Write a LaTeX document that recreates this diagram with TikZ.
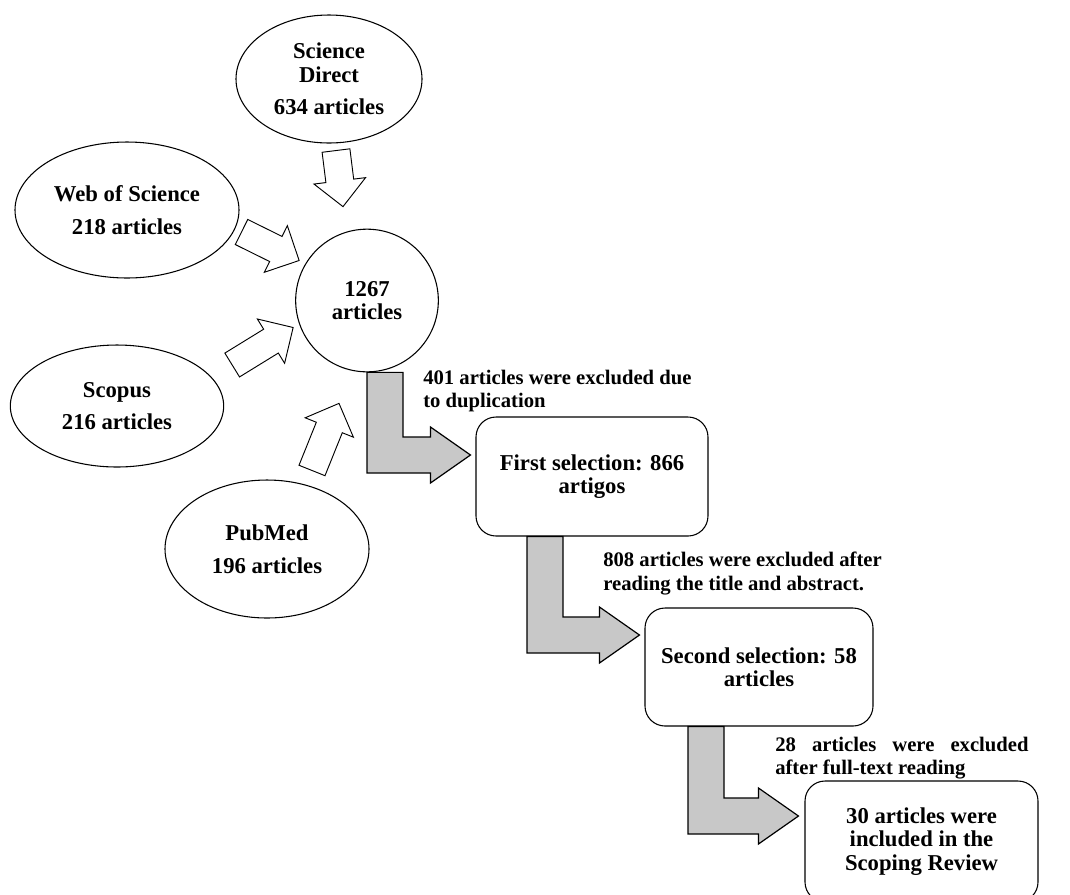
\documentclass[tikz,border=0pt]{standalone}
\usepackage{fontspec}
\setmainfont{Liberation Serif}
\usepackage{tikz}
\usetikzlibrary{calc,positioning,shapes.geometric}
\definecolor{stepGray}{RGB}{200,200,200}
\newcommand{\boxfont}{\fontsize{17}{17.5}\selectfont\bfseries}
\newcommand{\notefont}{\fontsize{15.5}{17.5}\selectfont\bfseries}

% hollow block arrow: #1 = tail, #2 = tip
\newcommand{\hollowarrow}[2]{%
  \path #1 coordinate (ha) #2 coordinate (hb) ($(hb)!19.5pt!(ha)$) coordinate (hm);
  \draw[hollowarr] ($(ha)!10.5pt!90:(hb)$) -- ($(hm)!10.5pt!90:(hb)$) -- ($(hm)!19.5pt!90:(hb)$)
    -- (hb) -- ($(hm)!19.5pt!-90:(hb)$) -- ($(hm)!10.5pt!-90:(hb)$) -- ($(ha)!10.5pt!-90:(hb)$) -- cycle;}

% grey elbow arrow: #1 = top left of shaft, #2 = tip
\newcommand{\elbowarrow}[2]{%
  \path #1 coordinate (ea) #2 coordinate (eb);
  \draw[elbowarr] (ea) -- ++(36,0) |- ($(eb)+(-40,-18)$) -- ++(0,-10) -- (eb)
    -- ++(-40,28) -- ++(0,-10) -| (ea) -- cycle;}

\begin{document}
\begin{tikzpicture}[x=0.75pt,y=-0.75pt,
    srcnode/.style={ellipse, draw, line width=0.8pt, inner sep=0pt, align=center, font=\boxfont},
    stagebox/.style={draw, rounded corners=15pt, line width=0.8pt, inner sep=0pt, align=center, font=\boxfont},
    note/.style={anchor=north west, inner sep=0pt, font=\notefont},
    hollowarr/.style={draw, fill=white, line width=0.7pt},
    elbowarr/.style={draw, fill=stepGray, line width=0.9pt}]
    \useasboundingbox (0,0) rectangle (1070,894);

    % databases
    \node[srcnode, minimum width=139.5pt, minimum height=96pt] (sd) at (329,79) {Science\\Direct\\[7pt]634 articles};
    \node[srcnode, minimum width=168pt, minimum height=102pt] (wos) at (127,210) {Web of Science\\[7pt]218 articles};
    \node[srcnode, minimum width=160pt, minimum height=91.5pt] (scopus) at (117,406) {Scopus\\[7pt]216 articles};
    \node[srcnode, minimum width=153pt, minimum height=103.5pt] (pubmed) at (267,549) {PubMed\\[7pt]196 articles};

    % pooled records
    \node[srcnode, circle, minimum size=107pt] (hub) at (367,300.5) {1267\\articles};

    % selection stages
    \node[stagebox, minimum width=174pt, minimum height=89.25pt] (sel1) at (592,476.5) {First selection: 866\\artigos};
    \node[stagebox, minimum width=171pt, minimum height=88.5pt] (sel2) at (759,667) {Second selection: 58\\articles};
    \node[stagebox, minimum width=174.75pt, minimum height=90.75pt] (incl) at (921.5,841.5) {30 articles were\\included in the\\Scoping Review};

    % exclusions
    \node[note, align=left] (ex1) at (423,370) {401 articles were excluded due\\to duplication};
    \node[note, align=left] (ex2) at (603,552) {808 articles were excluded after\\reading the title and abstract.};
    \node[note, text width=190pt, align=justify] (ex3) at (775,737) {28 articles were excluded\linebreak after full-text reading};

    % into the pool
    \hollowarrow{($(sd.south)+(7,7)$)}{($(hub.north)+(-24,-22)$)}
    \hollowarrow{($(wos.east)+(2,22)$)}{($(hub.west)+(4,-40)$)}
    \hollowarrow{($(scopus.east)+(8,-41)$)}{($(hub.west)+(-2,27)$)}
    \hollowarrow{($(pubmed.north)+(45,-9)$)}{($(hub.south)+(-28,31)$)}

    % screening flow
    \elbowarrow{(hub.south)}{($(sel1.west)+(-5,-21.5)$)}
    \elbowarrow{($(sel1.south)+(-65,0)$)}{($(sel2.west)+(-5,-32)$)}
    \elbowarrow{($(sel2.south)+(-71,0)$)}{($(incl.west)+(-6,-25.5)$)}
\end{tikzpicture}
\end{document}
